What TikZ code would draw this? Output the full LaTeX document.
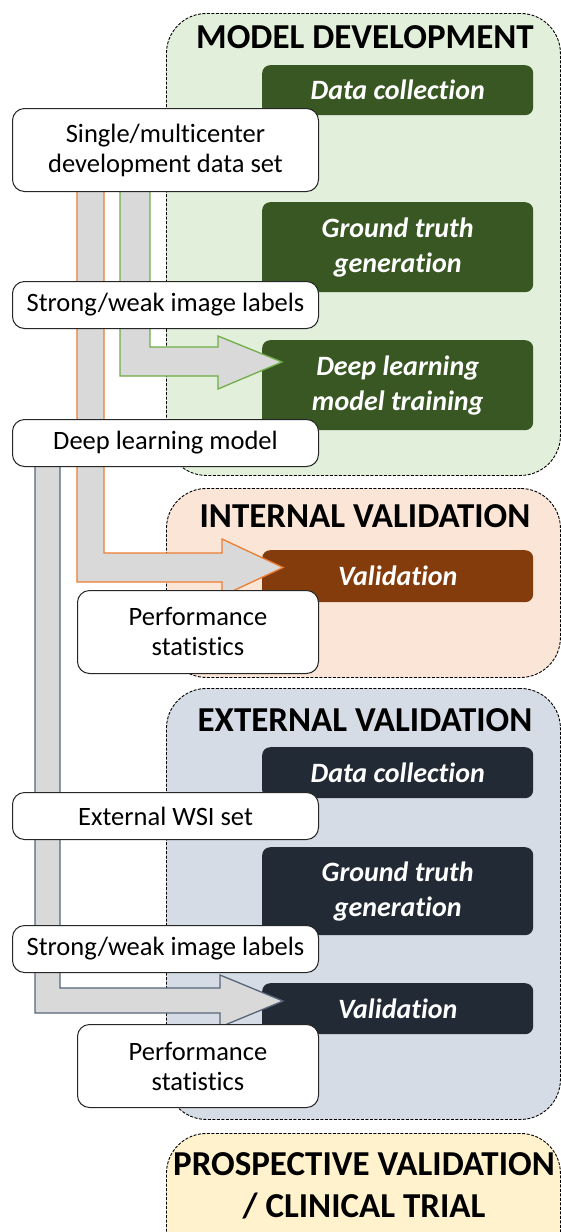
\documentclass[tikz,border=0pt]{standalone}
\usepackage{fontspec}
\setmainfont{Carlito}[Ligatures={NoCommon}]
\definecolor{mdbg}{HTML}{E2EFDA}
\definecolor{ivbg}{HTML}{FBE5D6}
\definecolor{evbg}{HTML}{D6DCE5}
\definecolor{pvbg}{HTML}{FFF2CC}
\definecolor{mddark}{HTML}{385723}
\definecolor{ivdark}{HTML}{843C0C}
\definecolor{evdark}{HTML}{222A35}
\definecolor{arrowfill}{HTML}{D9D9D9}
\definecolor{orangeln}{HTML}{ED7D31}
\definecolor{greenln}{HTML}{70AD47}
\definecolor{slateln}{HTML}{56657A}
\tikzset{
  stage/.style={draw=black, dash pattern=on 3pt off 1.5pt, line width=0.9pt, rounded corners=40pt, anchor=north west, inner sep=0pt},
  stagetitle/.style={anchor=base, inner sep=0pt, font=\fontsize{35}{42}\selectfont\bfseries, align=center},
  darkbox/.style={rounded corners=8pt, anchor=north west, inner sep=0pt, align=center, text=white, minimum width=271pt, font=\fontsize{28}{35}\selectfont\bfseries\itshape},
  whitebox/.style={draw=black!85, fill=white, line width=1pt, rounded corners=12pt, anchor=north west, inner sep=0pt, align=center, font=\fontsize{26.5}{30}\selectfont},
  blockarrow/.style={fill=arrowfill, line width=1.3pt, line join=miter}
}
\begin{document}
\begin{tikzpicture}[x=1pt,y=-1pt]
\clip (0,0) rectangle (561,1232);
\fill[white] (0,0) rectangle (561,1232);
% stage backgrounds
\node[stage, fill=mdbg, minimum width=394pt, minimum height=462pt] (md) at (166,13) {};
\node[stage, fill=ivbg, minimum width=394pt, minimum height=189pt] (iv) at (166,488) {};
\node[stage, fill=evbg, minimum width=394pt, minimum height=431pt] (ev) at (166,688) {};
\node[stage, fill=pvbg, minimum width=394pt, minimum height=140pt] (pv) at (166,1133) {};
% stage titles
\node[stagetitle] (mdt) at (365,48) {MODEL DEVELOPMENT};
\node[stagetitle] (ivt) at (365,527) {INTERNAL VALIDATION};
\node[stagetitle] (evt) at (365,731) {EXTERNAL VALIDATION};
\node[stagetitle] (pvt1) at (364,1175) {PROSPECTIVE VALIDATION};
\node[stagetitle] (pvt2) at (364,1217) {/ CLINICAL TRIAL};
% step boxes
\node[darkbox, fill=mddark, minimum height=50pt] (dc1) at (262,65) {Data collection};
\node[darkbox, fill=mddark, minimum height=90pt] (gt1) at (262,202) {Ground truth\\generation};
\node[darkbox, fill=mddark, minimum height=90pt] (tr) at (262,340) {Deep learning\\model training};
\node[darkbox, fill=ivdark, minimum height=52pt] (val1) at (262,550) {Validation};
\node[darkbox, fill=evdark, minimum height=51pt] (dc2) at (262,747) {Data collection};
\node[darkbox, fill=evdark, minimum height=88pt] (gt2) at (262,847) {Ground truth\\generation};
\node[darkbox, fill=evdark, minimum height=51pt] (val2) at (262,983) {Validation};
% block arrows
\coordinate (tipg) at (282,362);
\coordinate (tipo) at (283,567.5);
\coordinate (tips) at (283,1001);
\draw[blockarrow, draw=greenln] (120,150) -- (120,376) -- (218,376) -- (218,389) -- (tipg) -- (218,336) -- (218,347) -- (150,347) -- (150,150) -- cycle;
\draw[blockarrow, draw=orangeln] (77,150) -- (77,582) -- (222,582) -- (222,596) -- (tipo) -- (222,539) -- (222,553) -- (104,553) -- (104,150) -- cycle;
\draw[blockarrow, draw=slateln] (35,440) -- (35,1013) -- (220,1013) -- (220,1027) -- (tips) -- (220,975) -- (220,988) -- (60,988) -- (60,440) -- cycle;
% data boxes
\node[whitebox, minimum width=306pt, minimum height=83pt] (ws1) at (12,108) {Single/multicenter\\development data set};
\node[whitebox, minimum width=306pt, minimum height=47pt] (sw1) at (12,281) {Strong/weak image labels};
\node[whitebox, minimum width=306pt, minimum height=47pt] (dlm) at (12,419) {Deep learning model};
\node[whitebox, minimum width=241pt, minimum height=83pt] (ps1) at (77,590) {Performance\\statistics};
\node[whitebox, minimum width=306pt, minimum height=47pt] (ext) at (12,792) {External WSI set};
\node[whitebox, minimum width=306pt, minimum height=47pt] (sw2) at (12,925) {Strong/weak image labels};
\node[whitebox, minimum width=241pt, minimum height=83pt] (ps2) at (77,1024) {Performance\\statistics};
\end{tikzpicture}
\end{document}
